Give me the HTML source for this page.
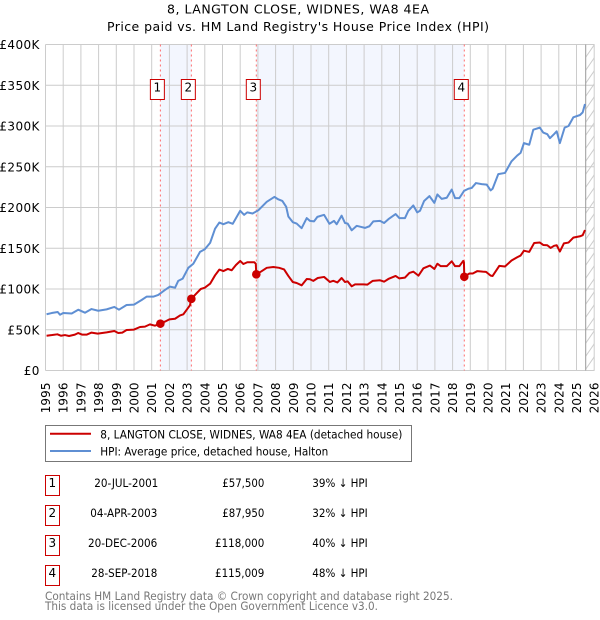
<!DOCTYPE html>
<html>
<head>
<meta charset="utf-8">
<title>8, LANGTON CLOSE, WIDNES, WA8 4EA</title>
<style>
html,body{margin:0;padding:0;background:#fff;width:600px;height:620px;overflow:hidden}
svg{display:block;font-family:"DejaVu Sans",sans-serif;fill:#000}
</style>
</head>
<body>
<svg id="chart" xmlns="http://www.w3.org/2000/svg" width="600" height="620" viewBox="0 0 600 620">
  <defs>
    <pattern id="hatch" patternUnits="userSpaceOnUse" width="9" height="13" x="585.5" y="44.5">
      <line x1="0" y1="13" x2="9" y2="0" stroke="#cccccc" stroke-width="1"></line>
    </pattern>
  </defs>
  <text x="167" y="13.5" font-size="12.5" textLength="262" lengthAdjust="spacing">8, LANGTON CLOSE, WIDNES, WA8 4EA</text>
  <text x="107" y="31" font-size="12.5" textLength="382" lengthAdjust="spacing">Price paid vs. HM Land Registry's House Price Index (HPI)</text>
  <g id="bands"></g>
  <rect x="585.7" y="44.5" width="8.8" height="326" fill="url(#hatch)"></rect>
  <g id="grid"></g>
  <line x1="585.7" x2="585.7" y1="44.5" y2="370.5" stroke="#999999" stroke-width="1"></line>
  <g id="sale-lines"></g>
  <g id="series"></g>
  <g id="markers"></g>
  <g id="sale-labels"></g>
  <g id="axis-labels"></g>

  <g>
    <rect x="45.5" y="425.5" width="366" height="36" fill="#fff" stroke="#777777" stroke-width="1"></rect>
    <line x1="50" x2="91" y1="433.7" y2="433.7" stroke="#cc0000" stroke-width="2"></line>
    <text x="100.3" y="438.3" font-size="11.5" textLength="302" lengthAdjust="spacingAndGlyphs">8, LANGTON CLOSE, WIDNES, WA8 4EA (detached house)</text>
    <line x1="50" x2="91" y1="451" y2="451" stroke="#5f8fd3" stroke-width="2"></line>
    <text x="100.3" y="455.3" font-size="11.5" textLength="228" lengthAdjust="spacingAndGlyphs">HPI: Average price, detached house, Halton</text>
  </g>

  <g font-size="11.5">
    <rect x="45.5" y="475.5" width="14" height="20" fill="#fff" stroke="#cc0000"></rect>
    <text x="52.3" y="487" text-anchor="middle" font-size="12">1</text>
    <text x="94.3" y="487" textLength="64" lengthAdjust="spacingAndGlyphs">20-JUL-2001</text>
    <text x="222.3" y="487" textLength="42" lengthAdjust="spacingAndGlyphs">£57,500</text>
    <text x="312.3" y="487" textLength="55.4" lengthAdjust="spacingAndGlyphs">39% ↓ HPI</text>

    <rect x="45.5" y="505.5" width="14" height="20" fill="#fff" stroke="#cc0000"></rect>
    <text x="52.3" y="517" text-anchor="middle" font-size="12">2</text>
    <text x="90.3" y="517" textLength="67" lengthAdjust="spacingAndGlyphs">04-APR-2003</text>
    <text x="222.3" y="517" textLength="42" lengthAdjust="spacingAndGlyphs">£87,950</text>
    <text x="312.3" y="517" textLength="55.4" lengthAdjust="spacingAndGlyphs">32% ↓ HPI</text>

    <rect x="45.5" y="535.5" width="14" height="20" fill="#fff" stroke="#cc0000"></rect>
    <text x="52.3" y="547" text-anchor="middle" font-size="12">3</text>
    <text x="88" y="547" textLength="69.3" lengthAdjust="spacingAndGlyphs">20-DEC-2006</text>
    <text x="215" y="547" textLength="49.3" lengthAdjust="spacingAndGlyphs">£118,000</text>
    <text x="312.3" y="547" textLength="55.4" lengthAdjust="spacingAndGlyphs">40% ↓ HPI</text>

    <rect x="45.5" y="565.5" width="14" height="20" fill="#fff" stroke="#cc0000"></rect>
    <text x="52.3" y="577" text-anchor="middle" font-size="12">4</text>
    <text x="91.3" y="577" textLength="66" lengthAdjust="spacingAndGlyphs">28-SEP-2018</text>
    <text x="215" y="577" textLength="49.3" lengthAdjust="spacingAndGlyphs">£115,009</text>
    <text x="312.3" y="577" textLength="55.4" lengthAdjust="spacingAndGlyphs">48% ↓ HPI</text>
  </g>

  <text x="45" y="600" font-size="11.5" style="fill:#777777" textLength="408" lengthAdjust="spacingAndGlyphs">Contains HM Land Registry data © Crown copyright and database right 2025.</text>
  <text x="45" y="610" font-size="11.5" style="fill:#777777" textLength="333" lengthAdjust="spacingAndGlyphs">This data is licensed under the Open Government Licence v3.0.</text>
</svg>
<script>
const yearTicks = [1995,1996,1997,1998,1999,2000,2001,2002,2003,2004,2005,2006,2007,2008,2009,2010,2011,2012,2013,2014,2015,2016,2017,2018,2019,2020,2021,2022,2023,2024,2025,2026];
const priceTicks = [0,50,100,150,200,250,300,350,400];
const priceTickLabels = ['£0','£50K','£100K','£150K','£200K','£250K','£300K','£350K','£400K'];

const saleDates = [2001.49,2003.24,2006.91,2018.66];
const salePrices = [57.5,87.95,118,115.009];
const saleNumbers = ['1','2','3','4'];

const hpiDates = [1995.06,1995.35,1995.69,1995.82,1996.0,1996.48,1996.85,1997.23,1997.6,1997.98,1998.45,1998.89,1999.15,1999.58,2000.0,2000.43,2000.71,2001.09,2001.37,2001.75,2002.03,2002.32,2002.5,2002.75,2003.07,2003.35,2003.73,2004.0,2004.3,2004.58,2004.82,2005.05,2005.33,2005.58,2006.0,2006.22,2006.4,2006.7,2007.03,2007.5,2007.93,2008.15,2008.38,2008.6,2008.72,2008.97,2009.19,2009.47,2009.76,2009.94,2010.17,2010.36,2010.74,2011.04,2011.3,2011.45,2011.73,2011.92,2012.07,2012.3,2012.58,2012.86,2013.05,2013.3,2013.52,2013.9,2014.13,2014.37,2014.78,2014.99,2015.31,2015.5,2015.78,2016.0,2016.16,2016.39,2016.69,2016.97,2017.14,2017.38,2017.67,2017.95,2018.14,2018.38,2018.65,2018.89,2019.08,2019.32,2019.64,2019.93,2020.15,2020.26,2020.58,2020.96,2021.33,2021.65,2021.84,2022.03,2022.33,2022.56,2022.93,2023.12,2023.35,2023.5,2023.73,2023.88,2024.06,2024.33,2024.55,2024.82,2025.2,2025.35,2025.48];
const hpiValues = [69,70.5,71.8,68.4,70.5,70,74.6,70.9,75.4,73.3,75,78,74.6,80.4,80.8,86.5,90.6,90.6,92.7,98.8,102.9,101.6,110,112.7,126,131,145.5,148.8,156.6,174,181.5,179.5,182,180,196,191,194,192.6,196.7,207,213,210,208,200.8,189,182,180.3,174.6,187,183.6,183,188.5,191,180,183.6,179.5,190,181,180.3,172,177.5,176,175,177,183,183.6,181,185.6,192,187,187,196,202.5,194,196,208,214,205.7,216,210.6,212,222,211.5,211.5,220.5,223,224,230,228.7,228,221,223,241,242.4,256.7,263.7,267,279,277,295.5,298,292,290,285,290,293.5,279,298,300,310.6,313.5,316.7,327];

const paidDates = [1995.06,1995.38,1995.67,1995.87,1996.1,1996.33,1996.66,1996.85,1997.08,1997.32,1997.6,1997.95,1998.45,1998.89,1999.11,1999.34,1999.58,2000.0,2000.34,2000.62,2000.9,2001.18,2001.49,2001.75,2002.0,2002.32,2002.6,2002.79,2002.98,2003.16,2003.24,2003.5,2003.77,2004.0,2004.3,2004.58,2004.82,2005.05,2005.3,2005.52,2005.76,2006.0,2006.18,2006.4,2006.8,2006.88,2006.91,2007.2,2007.5,2007.87,2008.2,2008.48,2008.72,2008.97,2009.19,2009.47,2009.76,2009.94,2010.13,2010.38,2010.74,2011.07,2011.26,2011.49,2011.73,2011.92,2012.07,2012.3,2012.49,2012.96,2013.18,2013.49,2013.9,2014.13,2014.37,2014.78,2014.99,2015.31,2015.56,2015.78,2016.07,2016.35,2016.72,2016.97,2017.14,2017.33,2017.67,2017.95,2018.14,2018.38,2018.6,2018.64,2018.66,2018.95,2019.14,2019.4,2019.7,2019.89,2020.15,2020.26,2020.64,2020.96,2021.33,2021.65,2021.84,2022.03,2022.33,2022.61,2022.93,2023.12,2023.35,2023.54,2023.73,2023.88,2024.06,2024.29,2024.55,2024.82,2025.2,2025.35,2025.48];
const paidValues = [42.7,43.5,44.4,42.7,43.5,42.3,44,46,44,44,46.5,45.2,46.8,48.5,46,46.5,49.7,50.2,53.4,53.8,56.6,55,57.5,60,62.7,63.5,67.6,69,74.6,80,87.95,94,100,101.6,106.5,116.8,123.8,122,124.6,123,129.5,134.4,130.7,132.8,132.8,131,118,121.7,126,127,126,124,116,108.6,107.4,104.5,112.3,112,110,113.5,114.8,108.6,110,108,113.5,108.6,109.4,103.3,105.7,105.7,105.3,110,110.7,109,112.3,116,113,114,119.7,121.3,116.4,125.4,128.7,124.6,131,128,128,134,128,128,134.4,133,115,119,119,122,121.3,121,116.4,116,128.4,127.6,135,139,141,147,145.5,156.5,157,154,153.7,150.4,153,153.7,146,156,157,163,164.7,166,172.4];

const NS = 'http://www.w3.org/2000/svg';
const PLOT = {left:45.5, right:594.2, top:44.5, bottom:370.5};
function xScale(year){ return PLOT.left + (year - 1995) * (PLOT.right - PLOT.left) / 31; }
function yScale(k){ return PLOT.bottom - k * (PLOT.bottom - PLOT.top) / 400; }
function make(tag, attrs, parent){
  const el = document.createElementNS(NS, tag);
  for (const k in attrs) el.setAttribute(k, attrs[k]);
  document.getElementById(parent).appendChild(el);
  return el;
}
function linePath(dates, values){
  return dates.map((d,i)=>(i?'L':'M')+xScale(d).toFixed(2)+' '+yScale(values[i]).toFixed(2)).join(' ');
}

// shaded bands between sales 1-2 and 3-4
[[0,1],[2,3]].forEach(function(pair){
  const x0 = xScale(saleDates[pair[0]]), x1 = xScale(saleDates[pair[1]]);
  const band = make('rect',{x:x0,y:PLOT.top,width:x1-x0,height:PLOT.bottom-PLOT.top,fill:'#f3f6fe'},'bands');
  
  
});

// grid lines and axis labels
yearTicks.forEach(function(y){
  const x = xScale(y);
  const g = make('line',{x1:x,x2:x,y1:PLOT.top,y2:PLOT.bottom,stroke:'#cccccc','stroke-width':1},'grid');
  
  
  const t = make('text',{transform:'translate('+(x+4.5)+',413.3) rotate(-90)','font-size':12,style:'letter-spacing:0.1px'},'axis-labels');
  
  
  t.textContent = y;
});
priceTicks.forEach(function(v,i){
  const y = yScale(v);
  const g = make('line',{x1:PLOT.left,x2:PLOT.right+0.3,y1:y,y2:y,stroke:'#cccccc','stroke-width':1},'grid');
  
  
  const t = make('text',{x:39.8,y:y+4.5,'text-anchor':'end','font-size':12,style:'letter-spacing:0.4px'},'axis-labels');
  
  
  t.textContent = priceTickLabels[i];
});

// sale vertical dotted lines
saleDates.forEach(function(d){
  const x = xScale(d);
  const l = make('line',{x1:x,x2:x,y1:PLOT.top,y2:PLOT.bottom,stroke:'#ff6b6b','stroke-width':1,'stroke-dasharray':'2 3'},'sale-lines');
  
  
});

// series
const hpiLine = make('path',{d:linePath(hpiDates,hpiValues),fill:'none',stroke:'#5f8fd3','stroke-width':2,'stroke-linejoin':'round'},'series');


const paidLine = make('path',{d:linePath(paidDates,paidValues),fill:'none',stroke:'#cc0000','stroke-width':2,'stroke-linejoin':'round'},'series');



// sale markers and numbered labels
saleDates.forEach(function(d,i){
  const x = xScale(d);
  const m = make('circle',{cx:x,cy:yScale(salePrices[i]),r:4.3,fill:'#cc0000'},'markers');
  
  
  const b = make('rect',{x:x-10,y:79.5,width:14,height:20,fill:'#fff',stroke:'#cc0000','stroke-width':1},'sale-labels');
  
  
  const t = make('text',{x:x-3,y:91.7,'text-anchor':'middle','font-size':12},'sale-labels');
  
  
  t.textContent = saleNumbers[i];
});
</script>
</body>
</html>
